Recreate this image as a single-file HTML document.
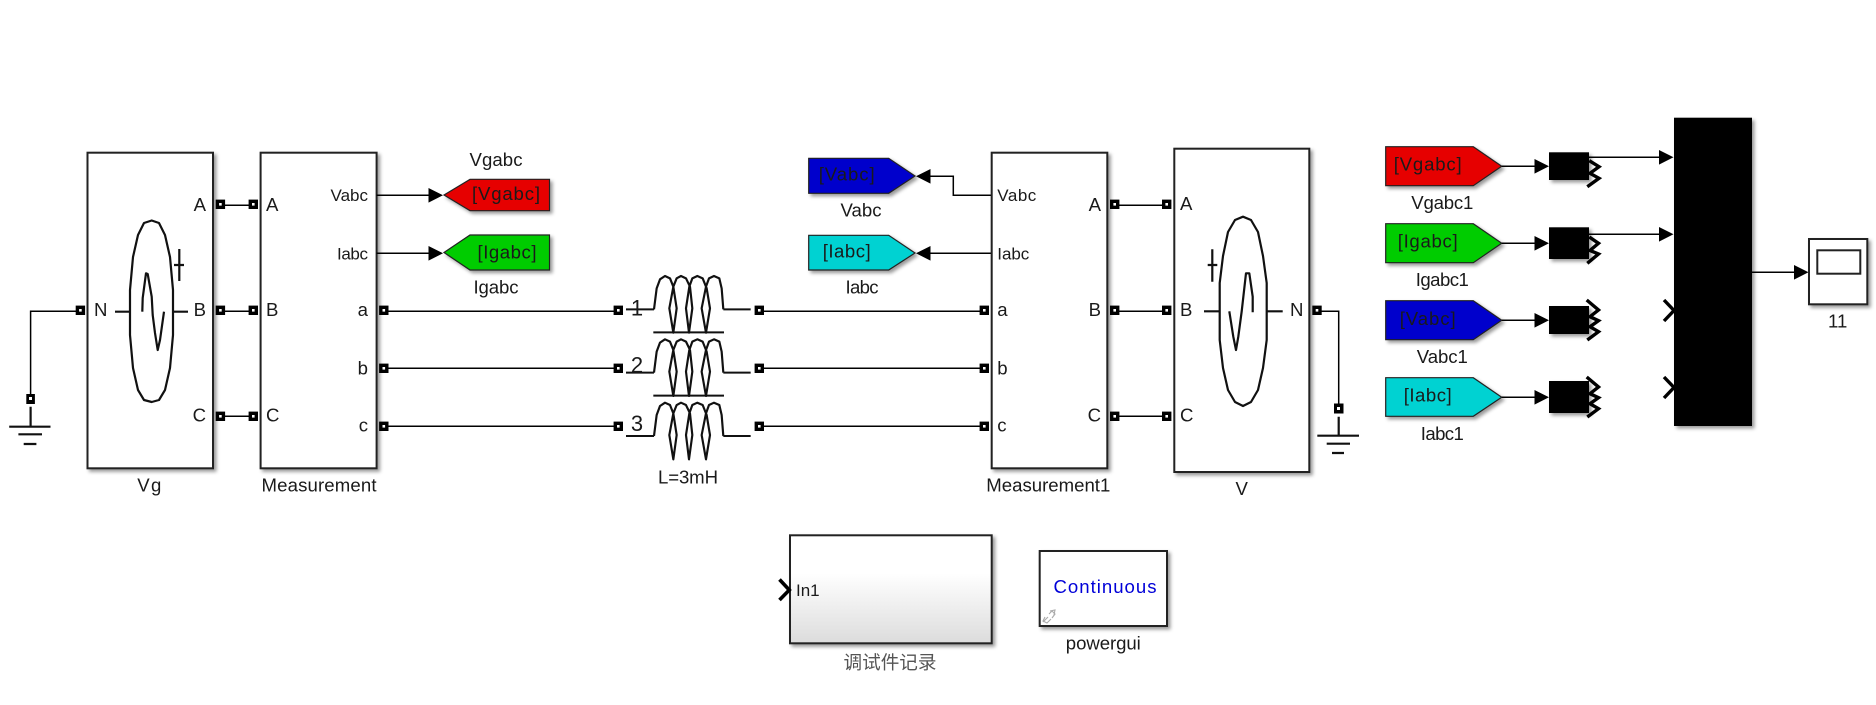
<!DOCTYPE html>
<html><head><meta charset="utf-8"><title>Simulink diagram</title>
<style>
html,body{margin:0;padding:0;background:#fff}
svg{display:block}
text{font-family:"Liberation Sans","Noto Sans CJK SC",sans-serif;font-size:18.6px;fill:#1a1a1a}
text.m{font-size:17px}
.b{stroke:#222;stroke-width:2;fill:#fff;filter:url(#sh)}
.w{stroke:#000;stroke-width:1.5;fill:none}
.s{stroke:#111;stroke-width:2.2;fill:none;stroke-linejoin:round}
.c{stroke:#000;stroke-width:3.4;fill:none}
</style></head><body>
<svg width="1876" height="705" viewBox="0 0 1876 705" xmlns="http://www.w3.org/2000/svg">
<defs>
<filter id="sh" x="-20%" y="-20%" width="150%" height="150%"><feDropShadow dx="2.5" dy="2.5" stdDeviation="1.8" flood-color="#000" flood-opacity=".4"/></filter>
<linearGradient id="gr" x1="0" y1="0" x2="0" y2="1"><stop offset=".35" stop-color="#fff"/><stop offset="1" stop-color="#dcdcdc"/></linearGradient>
<g id="p"><rect x="-4.7" y="-4.7" width="9.4" height="9.4" fill="#000"/><rect x="-1.3" y="-1.3" width="2.6" height="2.6" fill="#fff"/></g>
<polygon id="ar" points="0,0 -14.5,-7.3 -14.5,7.3" fill="#000"/>
<polygon id="al" points="0,0 14.5,-7.3 14.5,7.3" fill="#000"/>
<path id="coil" d="M132 148L140 85 150 58 165 48 180 55 190 80 200 145 190 218 178 145 190 80 200 55 213 48 228 55 240 80 247 145 237 218 228 145 238 80 247 55 262 48 278 55 290 85 300 145 288 218 275 145 288 80 297 55 312 48 328 55 335 85 340 148" fill="none" stroke="#111" stroke-width="6.5" stroke-linejoin="round"/>
</defs>

<!-- Vg -->
<rect class="b" x="87.5" y="152.7" width="125.5" height="315.6"/>
<rect class="b" x="260.6" y="152.7" width="116" height="315.6"/>
<polygon class="s" points="151.7,220.5 159,223 165,235 170,257 173,290 173,335 170,368 165,390 159,400 151.7,402 144,400 138,390 133,368 130,335 130,290 133,257 138,235 144,223"/>
<path class="s" d="M115 311.7H130M173 311.7H188M179.3 249V281M174 265H184"/>
<polyline class="s" points="142.3,311.7 142.7,298 146,273.3 147.7,274 151.7,296.7 152.7,315 155,333 157.7,350 160,340 164,311.7"/>
<text x="206" y="211" text-anchor="end">A</text><text x="206" y="316" text-anchor="end">B</text><text x="206" y="421.7" text-anchor="end">C</text><text x="94" y="316">N</text>
<text x="266" y="211">A</text><text x="266" y="316">B</text><text x="266" y="421.7">C</text>
<text class="m" x="368" y="201" text-anchor="end">Vabc</text>
<text class="m" x="368" y="259.3" text-anchor="end" textLength="31">Iabc</text>
<text x="368" y="316" text-anchor="end">a</text><text x="368" y="374.3" text-anchor="end">b</text><text x="368" y="431.7" text-anchor="end">c</text>
<text x="149.3" y="491.7" text-anchor="middle" textLength="24">Vg</text>
<text x="319" y="491.7" text-anchor="middle" textLength="115">Measurement</text>

<!-- left ground -->
<path class="w" d="M76 311.3H30.6V394"/>
<rect x="26.3" y="394" width="8.6" height="10" fill="#000"/><rect x="29" y="397" width="3" height="3" fill="#fff"/>
<path class="s" d="M30.6 406.7V426.7M9.2 426.7H50.5M18.4 434.3H42M23.7 444H36.4"/>
<path class="w" d="M220 205.3H253M220 311.3H253M220 416.3H253"/>
<path class="w" d="M384 311.3H618M384 368.3H618M384 426.3H618"/>
<use href="#p" x="80.4" y="310.3"/><use href="#p" x="220.4" y="204.3"/><use href="#p" x="220.4" y="310.3"/><use href="#p" x="220.4" y="416.3"/>
<use href="#p" x="253.3" y="204.3"/><use href="#p" x="253.3" y="310.3"/><use href="#p" x="253.3" y="416.3"/>
<use href="#p" x="383.8" y="310.3"/><use href="#p" x="383.8" y="368.3"/><use href="#p" x="383.8" y="426.3"/>

<!-- gotos left -->
<path class="w" d="M376.6 195.3H429M376.6 253.3H429"/>
<use href="#ar" x="443" y="195.3"/><use href="#ar" x="443" y="253.3"/>
<polygon points="444,195 470,179.3 549.5,179.3 549.5,210.7 470,210.7" fill="#e60000" stroke="#222" stroke-width="1.2" filter="url(#sh)"/>
<polygon points="444,252.5 470,235 549.5,235 549.5,270 470,270" fill="#00cc00" stroke="#222" stroke-width="1.2" filter="url(#sh)"/>
<text x="506" y="200" text-anchor="middle" textLength="68">[Vgabc]</text>
<text x="507" y="258.3" text-anchor="middle" textLength="59">[Igabc]</text>
<text x="496" y="166" text-anchor="middle" textLength="53">Vgabc</text>
<text x="496" y="293.3" text-anchor="middle" textLength="45">Igabc</text>

<!-- inductors -->
<g transform="translate(610,260) scale(.3333)"><use href="#coil"/><path d="M48 148H132M340 148H422M130 217H342" stroke="#111" stroke-width="6" fill="none"/></g>
<g transform="translate(610,323.3) scale(.3333)"><use href="#coil"/><path d="M48 148H132M340 148H422M130 217H342" stroke="#111" stroke-width="6" fill="none"/></g>
<g transform="translate(610,386.7) scale(.3333)"><use href="#coil"/><path d="M48 148H132M340 148H422" stroke="#111" stroke-width="6" fill="none"/></g>
<text x="637" y="315.3" text-anchor="middle" style="font-size:22px">1</text>
<text x="637" y="372.7" text-anchor="middle" style="font-size:22px">2</text>
<text x="637" y="431" text-anchor="middle" style="font-size:22px">3</text>
<text x="688" y="483.3" text-anchor="middle" textLength="60">L=3mH</text>
<path class="w" d="M759 311.3H984M759 368.3H984M759 426.3H984"/>
<use href="#p" x="618.3" y="310.3"/><use href="#p" x="618.3" y="368.3"/><use href="#p" x="618.3" y="426.3"/>
<use href="#p" x="759.3" y="310.3"/><use href="#p" x="759.3" y="368.3"/><use href="#p" x="759.3" y="426.3"/>
<use href="#p" x="984.3" y="310.3"/><use href="#p" x="984.3" y="368.3"/><use href="#p" x="984.3" y="426.3"/>

<!-- gotos middle -->
<polygon points="808.7,158.3 888.7,158.3 915,176 888.7,193.3 808.7,193.3" fill="#0000cc" stroke="#222" stroke-width="1.2" filter="url(#sh)"/>
<polygon points="808.7,235.3 888.7,235.3 915,253 888.7,270 808.7,270" fill="#00d2d2" stroke="#222" stroke-width="1.2" filter="url(#sh)"/>
<text x="846.7" y="180.7" text-anchor="middle" textLength="56">[Vabc]</text>
<text x="846.7" y="257.3" text-anchor="middle" textLength="48">[Iabc]</text>
<text x="861" y="216.7" text-anchor="middle" textLength="41">Vabc</text>
<text x="862" y="293.3" text-anchor="middle" textLength="33">Iabc</text>
<path class="w" d="M991 195.3H953.3V176.3H930M991 253.3H930"/>
<use href="#al" x="916" y="176.3"/><use href="#al" x="916" y="253.3"/>

<!-- Measurement1 -->
<rect class="b" x="991.7" y="152.7" width="115.6" height="315.6"/>
<text class="m" x="997.3" y="201" textLength="39">Vabc</text><text class="m" x="997.3" y="259.3" textLength="32">Iabc</text>
<text x="997.3" y="316">a</text><text x="997.3" y="374.3">b</text><text x="997.3" y="431.7">c</text>
<text x="1101" y="211" text-anchor="end">A</text><text x="1101" y="316" text-anchor="end">B</text><text x="1101" y="421.7" text-anchor="end">C</text>
<text x="1048.3" y="491.7" text-anchor="middle" textLength="124">Measurement1</text>

<!-- V -->
<rect class="b" x="1174.3" y="148.7" width="135" height="323.3"/>
<polygon class="s" points="1243,216.7 1251,220 1258,232 1263,256 1266.7,283 1266.7,340 1263,368 1258,390 1251,402 1243,406 1235,402 1228,390 1223,368 1219.7,340 1219.7,283 1223,256 1228,232 1235,220"/>
<path class="s" d="M1204 311.3H1220M1266.7 311.3H1282.7M1212.3 249.3V281.7M1207.7 265H1217.3"/>
<polyline class="s" points="1229.3,311.3 1233.3,336.7 1236,350 1238.3,336.7 1241.7,311.3 1246,273.3 1249.3,273.3 1252.7,296.7 1252.7,312.3"/>
<text x="1180" y="210">A</text><text x="1180" y="316">B</text><text x="1180" y="421.7">C</text><text x="1290" y="316">N</text>
<text x="1241.7" y="495" text-anchor="middle">V</text>
<path class="w" d="M1115 205.3H1167M1115 311.3H1167M1115 416.3H1167"/>
<use href="#p" x="1114.7" y="204.3"/><use href="#p" x="1114.7" y="310.3"/><use href="#p" x="1114.7" y="416.3"/>
<use href="#p" x="1166.7" y="204.3"/><use href="#p" x="1166.7" y="310.3"/><use href="#p" x="1166.7" y="416.3"/>
<path class="w" d="M1317 311.3H1338.7V404"/>
<use href="#p" x="1317" y="310.3"/>
<rect x="1334" y="403.5" width="9.5" height="10" fill="#000"/><rect x="1337" y="407" width="3" height="3" fill="#fff"/>
<path class="s" d="M1338.7 416.7V435.7M1317.3 435.7H1359M1326.7 443.7H1350M1332 453H1344"/>

<!-- right gotos -->
<polygon points="1385.7,146.7 1473.3,146.7 1501.7,166.3 1473.3,185.7 1385.7,185.7" fill="#e60000" stroke="#222" stroke-width="1.2" filter="url(#sh)"/>
<polygon points="1385.7,223.7 1473.3,223.7 1501.7,243.3 1473.3,262.7 1385.7,262.7" fill="#00cc00" stroke="#222" stroke-width="1.2" filter="url(#sh)"/>
<polygon points="1385.7,300.7 1473.3,300.7 1501.7,320.3 1473.3,339.7 1385.7,339.7" fill="#0000cc" stroke="#222" stroke-width="1.2" filter="url(#sh)"/>
<polygon points="1385.7,377.7 1473.3,377.7 1501.7,397.3 1473.3,416.3 1385.7,416.3" fill="#00d2d2" stroke="#222" stroke-width="1.2" filter="url(#sh)"/>
<text x="1427.7" y="170.7" text-anchor="middle" textLength="68">[Vgabc]</text>
<text x="1427.7" y="247.7" text-anchor="middle" textLength="60">[Igabc]</text>
<text x="1427.7" y="325" text-anchor="middle" textLength="56">[Vabc]</text>
<text x="1427.7" y="401.7" text-anchor="middle" textLength="48">[Iabc]</text>
<text x="1442.3" y="209" text-anchor="middle" textLength="62">Vgabc1</text>
<text x="1442.3" y="286" text-anchor="middle" textLength="53">Igabc1</text>
<text x="1442.3" y="363" text-anchor="middle" textLength="51">Vabc1</text>
<text x="1442.3" y="440" text-anchor="middle" textLength="43">Iabc1</text>
<path class="w" d="M1501.7 166.3H1535M1501.7 243.3H1535M1501.7 320.3H1535M1501.7 397.3H1535"/>
<use href="#ar" x="1549" y="166.3"/><use href="#ar" x="1549" y="243.3"/><use href="#ar" x="1549" y="320.3"/><use href="#ar" x="1549" y="397.3"/>

<!-- demux blocks -->
<rect x="1549" y="152.3" width="40" height="27.7" fill="#000" filter="url(#sh)"/>
<rect x="1549" y="227.3" width="40" height="31.7" fill="#000" filter="url(#sh)"/>
<rect x="1549" y="306" width="40" height="28" fill="#000" filter="url(#sh)"/>
<rect x="1549" y="381" width="40" height="32" fill="#000" filter="url(#sh)"/>
<polyline class="c" points="1589.3,160.7 1599,166.7 1590,173.3 1599,178.3 1587.3,186.7"/>
<polyline class="c" points="1589.3,237 1598.5,243.3 1590,250.5 1598.5,254 1587.3,263.3"/>
<polyline class="c" points="1586.7,300 1598.5,310 1590,316.7 1598.5,320.7 1590,326.7 1598.5,331.7 1587.3,340"/>
<polyline class="c" points="1586.7,377 1598.5,387 1590,393.7 1598.5,397.7 1590,403.7 1598.5,408.7 1587.3,417"/>
<path class="w" d="M1589 157.3H1660M1589 234.3H1660"/>
<use href="#ar" x="1673.5" y="157.3"/><use href="#ar" x="1673.5" y="234.3"/>
<polyline class="c" points="1664,300 1674,310.5 1664,321"/>
<polyline class="c" points="1664,377 1674,387.5 1664,398"/>
<rect x="1674" y="117.7" width="78" height="308.3" fill="#000" filter="url(#sh)"/>
<path class="w" d="M1752 272.3H1795"/>
<use href="#ar" x="1808.5" y="272.3"/>
<rect class="b" x="1809" y="239" width="58.3" height="65.3"/>
<rect x="1817.3" y="250.3" width="43" height="23.4" fill="#fff" stroke="#222" stroke-width="2"/>
<text x="1837.7" y="327.7" text-anchor="middle">11</text>

<!-- subsystem -->
<rect class="b" x="790" y="535.3" width="201.7" height="108" style="fill:url(#gr)"/>
<polyline points="779.5,579.5 789.3,590 779.5,600" fill="none" stroke="#000" stroke-width="3.6"/>
<text class="m" x="796" y="596">In1</text>
<text x="890" y="669" text-anchor="middle" style="font-size:18.6px;fill:#555">调试件记录</text>

<!-- powergui -->
<rect class="b" x="1039.7" y="551" width="127.3" height="75"/>
<text x="1105" y="593" text-anchor="middle" textLength="103" style="fill:#0000d8">Continuous</text>
<text x="1103.3" y="649.3" text-anchor="middle" textLength="75">powergui</text>
<path d="M1043 622l5-5M1050 611l5-1 -1 5M1045 617l-2 4 4 2 4-4M1049 614l3-3 3 3-3 4" fill="none" stroke="#aaa" stroke-width="1.1"/>
</svg>
</body></html>
